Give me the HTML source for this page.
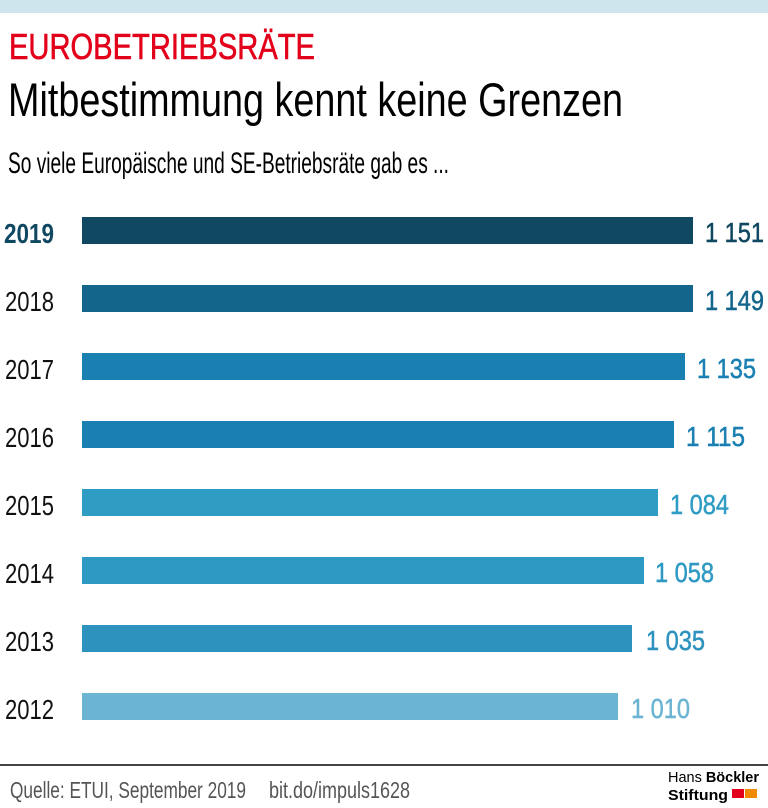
<!DOCTYPE html>
<html><head><meta charset="utf-8"><style>
html,body{margin:0;padding:0;background:#fff;}
svg{display:block;}
text{font-family:"Liberation Sans Narrow","Liberation Sans",sans-serif;}
</style></head><body>
<svg width="768" height="808" viewBox="0 0 768 808" xmlns="http://www.w3.org/2000/svg">
<rect x="0" y="0" width="768" height="13" fill="#cfe5ee"/>
<text x="9" y="59" font-size="36" fill="#e2001a" stroke="#e2001a" stroke-width="0.6" textLength="306" lengthAdjust="spacingAndGlyphs">EUROBETRIEBSRÄTE</text>
<text x="8" y="116" font-size="47" fill="#000" textLength="615" lengthAdjust="spacingAndGlyphs">Mitbestimmung kennt keine Grenzen</text>
<text x="8" y="173" font-size="30" fill="#000" textLength="441" lengthAdjust="spacingAndGlyphs">So viele Europäische und SE-Betriebsräte gab es ...</text>

<g font-size="28">
<text x="4" y="243" font-weight="bold" fill="#104861" textLength="50" lengthAdjust="spacingAndGlyphs">2019</text>
<text x="5" y="311" fill="#111" textLength="49" lengthAdjust="spacingAndGlyphs">2018</text>
<text x="5" y="379" fill="#111" textLength="49" lengthAdjust="spacingAndGlyphs">2017</text>
<text x="5" y="447" fill="#111" textLength="49" lengthAdjust="spacingAndGlyphs">2016</text>
<text x="5" y="515" fill="#111" textLength="49" lengthAdjust="spacingAndGlyphs">2015</text>
<text x="5" y="583" fill="#111" textLength="49" lengthAdjust="spacingAndGlyphs">2014</text>
<text x="5" y="651" fill="#111" textLength="49" lengthAdjust="spacingAndGlyphs">2013</text>
<text x="5" y="719" fill="#111" textLength="49" lengthAdjust="spacingAndGlyphs">2012</text>
</g>

<rect x="82" y="217" width="611" height="27" fill="#104861"/>
<rect x="82" y="285" width="611" height="27" fill="#14658c"/>
<rect x="82" y="353" width="603" height="27" fill="#1a80b2"/>
<rect x="82" y="421" width="592" height="27" fill="#1a7fb1"/>
<rect x="82" y="489" width="576" height="27" fill="#2f9cc4"/>
<rect x="82" y="557" width="562" height="27" fill="#2e99c2"/>
<rect x="82" y="625" width="550" height="27" fill="#2d93be"/>
<rect x="82" y="693" width="536" height="27" fill="#6bb4d2"/>

<g font-size="28" stroke-width="0.5">
<text x="705" y="242" fill="#104861" stroke="#104861" textLength="59" lengthAdjust="spacingAndGlyphs">1 151</text>
<text x="705" y="310" fill="#14658c" stroke="#14658c" textLength="59" lengthAdjust="spacingAndGlyphs">1 149</text>
<text x="697" y="378" fill="#1a80b2" stroke="#1a80b2" textLength="59" lengthAdjust="spacingAndGlyphs">1 135</text>
<text x="686" y="446" fill="#1a7fb1" stroke="#1a7fb1" textLength="59" lengthAdjust="spacingAndGlyphs">1 115</text>
<text x="670" y="514" fill="#2f9cc4" stroke="#2f9cc4" textLength="59" lengthAdjust="spacingAndGlyphs">1 084</text>
<text x="655" y="582" fill="#2e99c2" stroke="#2e99c2" textLength="59" lengthAdjust="spacingAndGlyphs">1 058</text>
<text x="646" y="650" fill="#2d93be" stroke="#2d93be" textLength="59" lengthAdjust="spacingAndGlyphs">1 035</text>
<text x="631" y="718" fill="#6bb4d2" stroke="#6bb4d2" textLength="59" lengthAdjust="spacingAndGlyphs">1 010</text>
</g>

<rect x="0" y="764" width="768" height="2" fill="#444"/>
<text x="10" y="798" font-size="23" fill="#555" textLength="236" lengthAdjust="spacingAndGlyphs">Quelle: ETUI, September 2019</text>
<text x="269" y="798" font-size="23" fill="#555" textLength="141" lengthAdjust="spacingAndGlyphs">bit.do/impuls1628</text>
<text x="668" y="782" font-size="15" fill="#000" textLength="91" lengthAdjust="spacingAndGlyphs">Hans <tspan font-weight="bold">Böckler</tspan></text>
<text x="668" y="800" font-size="15" font-weight="bold" fill="#000" textLength="60" lengthAdjust="spacingAndGlyphs">Stiftung</text>
<rect x="732" y="789" width="12" height="9" fill="#e2001a"/>
<rect x="745" y="789" width="12" height="9" fill="#f08a00"/>
</svg>
</body></html>
